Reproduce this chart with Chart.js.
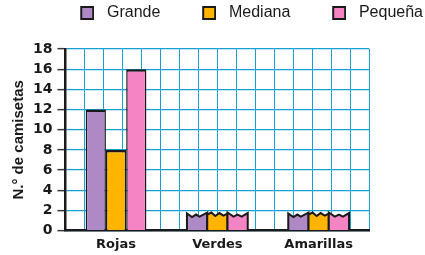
<!DOCTYPE html>
<html>
<head>
<meta charset="utf-8">
<script src="https://cdn.jsdelivr.net/npm/chart.js@4.4.1/dist/chart.umd.min.js"></script>
<style>
  html, body { margin: 0; padding: 0; background: #fff; }
  #wrap { width: 425px; height: 255px; }
</style>
</head>
<body>
<div id="wrap"><canvas id="shirtChart" width="425" height="255"></canvas></div>
<script>
// ===== Data =====
const categories = ['Rojas', 'Verdes', 'Amarillas'];
const seriesNames = ['Grande', 'Mediana', 'Pequeña'];
const grande = [12, 1.8, 1.8];
const mediana = [8, 1.8, 1.8];
const pequena = [16, 1.8, 1.8];
// Verdes and Amarillas are drawn as torn bars (count still to be found)
const torn = [false, true, true];
const yTicks = [0, 2, 4, 6, 8, 10, 12, 14, 16, 18];
const yTitle = 'N.° de camisetas';

// ===== Style =====
const colors = ['#ae89c5', '#ffb400', '#f484c4'];
const gridBlue = 'rgb(20, 160, 210)';
const ink = '#1a1a1a';

// torn top edge of each series: [fraction of bar width, px below top]
const tornEdges = [
  [[0, 1], [0.25, 4.5], [0.45, 2], [0.62, 4], [1, 0]],
  [[0, 2], [0.2, 0], [0.4, 3.5], [0.6, 0.5], [0.8, 3], [1, 1]],
  [[0, 0], [0.3, 4], [0.5, 2], [0.7, 4], [1, 0.5]]
];

// legend swatch: square sits at the right of a wider transparent icon
function legendIcon(color) {
  const c = document.createElement('canvas');
  c.width = 49;
  c.height = 14;
  const g = c.getContext('2d');
  g.fillStyle = color;
  g.fillRect(35, 0, 14, 14);
  g.strokeStyle = ink;
  g.lineWidth = 2;
  g.strokeRect(36, 1, 12, 12);
  return c;
}

const tornBars = {
  id: 'tornBars',
  afterDatasetsDraw(chart) {
    const ctx = chart.ctx;
    chart.data.datasets.forEach((ds, di) => {
      chart.getDatasetMeta(di).data.forEach((bar, i) => {
        if (!torn[i]) return;
        const { x, y, base, width } = bar.getProps(['x', 'y', 'base', 'width'], true);
        const left = x - width / 2;
        ctx.save();
        ctx.beginPath();
        ctx.moveTo(left, base);
        tornEdges[di].forEach(([fx, dy]) => ctx.lineTo(left + fx * width, y + dy));
        ctx.lineTo(left + width, base);
        ctx.fillStyle = colors[di];
        ctx.fill();
        ctx.lineWidth = 2;
        ctx.strokeStyle = ink;
        ctx.stroke();
        ctx.restore();
      });
    });
  }
};

// leave room between legend and plot
const legendGap = {
  id: 'legendGap',
  beforeInit(chart) {
    const fit = chart.legend.fit;
    chart.legend.fit = function () {
      fit.call(this);
      this.height = 46;
    };
  }
};

new Chart(document.getElementById('shirtChart'), {
  type: 'bar',
  data: {
    labels: categories,
    datasets: [grande, mediana, pequena].map((vals, k) => ({
      label: seriesNames[k],
      data: vals,
      backgroundColor: c => torn[c.dataIndex] ? 'rgba(0,0,0,0)' : colors[k],
      borderColor: ink,
      borderWidth: c => torn[c.dataIndex] ? 0 : { top: 2.5, left: 1.5, right: 1.5, bottom: 0 },
      categoryPercentage: 0.6,
      barPercentage: 1
    }))
  },
  options: {
    responsive: false,
    animation: false,
    layout: { padding: { top: 3 } },
    plugins: {
      tooltip: { enabled: false },
      legend: {
        align: 'end',
        labels: {
          usePointStyle: true,
          pointStyleWidth: 58.6,
          padding: 2,
          font: { family: 'Liberation Sans', size: 16 },
          generateLabels: chart => chart.data.datasets.map((ds, i) => ({
            text: ds.label,
            pointStyle: legendIcon(colors[i]),
            fontColor: ink,
            datasetIndex: i,
            hidden: false,
            lineWidth: 0
          }))
        }
      }
    },
    scales: {
      x: {
        z: 1,
        grid: { display: false, drawTicks: false },
        border: { color: ink, width: 2.5 },
        ticks: { color: ink, padding: 6, font: { family: 'DejaVu Sans', weight: 'bold', size: 13 } },
        afterFit: s => { s.height = 24.3; }
      },
      cols: {
        type: 'linear',
        position: 'top',
        min: 0,
        max: 15,
        grid: { color: gridBlue, lineWidth: 1, drawTicks: false },
        border: { display: false },
        ticks: { display: false, stepSize: 1 },
        afterFit: s => { s.height = 0; }
      },
      y: {
        min: 0,
        max: 18,
        afterBuildTicks: s => { s.ticks = yTicks.map(v => ({ value: v })); },
        grid: {
          color: () => gridBlue,
          lineWidth: 1.3,
          tickColor: () => '#3a3a3a',
          tickLength: 8,
          tickWidth: 1.5
        },
        border: { color: ink, width: 2.5 },
        ticks: { color: ink, padding: 5, font: { family: 'DejaVu Sans', weight: 'bold', size: 14 } },
        title: {
          display: true,
          text: yTitle,
          color: ink,
          padding: { top: 9.7, bottom: 0 },
          font: { family: 'Liberation Sans', weight: 'bold', size: 15 }
        },
        afterFit: s => { s.width = 65.4; }
      },
      yr: {
        type: 'linear',
        position: 'right',
        grid: { display: false, drawOnChartArea: false, drawTicks: false },
        border: { display: false },
        ticks: { display: false },
        afterFit: s => { s.width = 55.7; }
      }
    }
  },
  plugins: [tornBars, legendGap]
});
</script>
</body>
</html>
